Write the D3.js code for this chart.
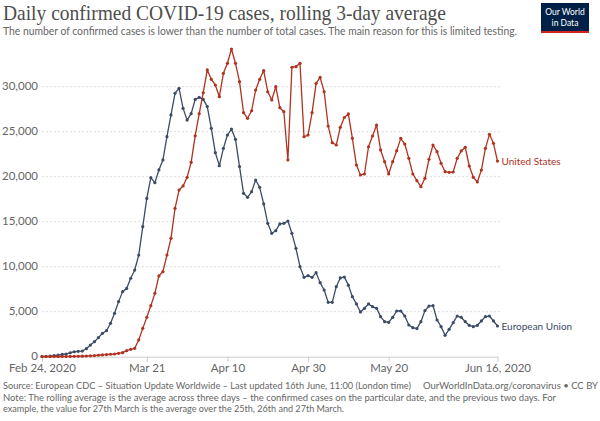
<!DOCTYPE html>
<html>
<head>
<meta charset="utf-8">
<script src="https://cdn.jsdelivr.net/npm/d3@7"></script>
<style>
  html, body { margin: 0; padding: 0; background: #fff; }
  svg { display: block; }
</style>
</head>
<body>
<svg id="chart" width="600" height="421"></svg>
<script>
// ---- data ----
const startDate = "2020-02-24";
const seriesNames = ["United States", "European Union"];
const euValues = [20,40,60,120,180,250,300,440,550,600,
  630,890,1290,1670,2120,2600,2890,3710,4820,6120,
  7230,7590,8710,9630,11290,14450,17590,19890,19340,20750,
  21860,24450,26860,29270,29820,27590,26290,27000,28590,28820,
  28590,27790,25380,22670,21230,23150,24630,25300,24150,21120,
  18150,17710,18340,19630,18820,16970,14820,13710,14000,14750,
  14820,15080,13710,12040,10000,8820,9000,8820,9340,8230,
  7410,6040,6040,7780,8750,8850,7950,6670,5860,4970,
  5380,5860,5560,5380,4450,3890,3820,4380,5080,5080,
  4520,3520,3230,3120,3890,5120,5630,5670,4080,3340,
  2380,3040,3780,4520,4380,3890,3490,3340,3490,3970,
  4450,4520,3970,3410];
const usValues = [15,15,15,20,20,20,25,30,40,50,
  60,80,100,130,160,200,240,270,300,370,
  450,670,820,930,1860,3150,4370,5670,7040,8970,
  9450,11300,13150,16490,18520,18970,19930,21600,24540,27000,
  29330,31860,30820,30190,28890,31490,32600,34190,32600,30560,
  27110,26490,27330,29630,30820,31780,29440,28520,30000,27670,
  27220,21860,32160,32220,32600,24440,24630,27110,30370,31040,
  29440,25630,23780,23520,25490,26580,26970,24260,21300,20190,
  20300,23330,24520,25740,22970,21670,20300,21670,22890,24260,
  23630,22040,20300,19560,18890,19820,21930,23520,22780,21490,
  20560,20490,20520,22040,22860,23270,21190,19930,19410,20740,
  23150,24710,23710,21740];
const yTicks = [0, 5000, 10000, 15000, 20000, 25000, 30000];
const xTickDates = ["2020-02-24","2020-03-21","2020-04-10","2020-04-30","2020-05-20","2020-06-16"];
const xTickLabels = ["Feb 24, 2020","Mar 21","Apr 10","Apr 30","May 20","Jun 16, 2020"];

const title = "Daily confirmed COVID-19 cases, rolling 3-day average";
const subtitle = "The number of confirmed cases is lower than the number of total cases. The main reason for this is limited testing.";
const sourceText = "Source: European CDC – Situation Update Worldwide – Last updated 16th June, 11:00 (London time)";
const urlText = "OurWorldInData.org/coronavirus • CC BY";
const noteLines = ["Note: The rolling average is the average across three days – the confirmed cases on the particular date, and the previous two days. For",
  "example, the value for 27th March is the average over the 25th, 26th and 27th March."];

// ---- setup ----
const parse = d3.utcParse("%Y-%m-%d");
const t0 = parse(startDate);
const dates = euValues.map((_, i) => d3.utcDay.offset(t0, i));
const colors = { "United States": "#b0321f", "European Union": "#3b4c66" };
const FONT = "Lato, 'Open Sans', sans-serif";

const svg = d3.select("#chart");
const x = d3.scaleUtc().domain([dates[0], dates[dates.length - 1]]).range([42, 497.5]);
const y = d3.scaleLinear().domain([0, 30000]).range([356.7, 86.7]);

// Title & subtitle
svg.append("text").attr("x", 3).attr("y", 20)
  .attr("font-family", "'Liberation Serif', 'DejaVu Serif', serif")
  .attr("font-size", 21).attr("fill", "#4d4d4d")
  .attr("textLength", 443).attr("lengthAdjust", "spacingAndGlyphs")
  .text(title);
svg.append("text").attr("x", 3).attr("y", 35)
  .attr("font-family", FONT).attr("font-size", 11).attr("fill", "#666")
  .attr("textLength", 514).attr("lengthAdjust", "spacingAndGlyphs")
  .text(subtitle);

// Logo
const logo = svg.append("g").attr("transform", "translate(541,3)");
logo.append("rect").attr("width", 48).attr("height", 30).attr("fill", "#002147");
logo.append("rect").attr("y", 28).attr("width", 48).attr("height", 2).attr("fill", "#ce261e");
logo.append("text").attr("x", 24).attr("y", 12).attr("text-anchor", "middle")
  .attr("font-family", FONT).attr("font-size", 8.5).attr("fill", "#fff").text("Our World");
logo.append("text").attr("x", 24).attr("y", 22.5).attr("text-anchor", "middle")
  .attr("font-family", FONT).attr("font-size", 8.5).attr("fill", "#fff").text("in Data");

// Gridlines
const grid = svg.append("g");
grid.selectAll("line").data(yTicks.filter(d => d > 0)).join("line")
  .attr("x1", 42).attr("x2", 500)
  .attr("y1", d => y(d)).attr("y2", d => y(d))
  .attr("stroke", "#ddd").attr("stroke-width", 1).attr("stroke-dasharray", "2,2");

// Y axis labels
svg.append("g").selectAll("text").data(yTicks).join("text")
  .attr("x", 38).attr("y", d => y(d)).attr("dy", "0.25em")
  .attr("text-anchor", "end")
  .attr("font-family", FONT).attr("font-size", 11.5).attr("fill", "#666")
  .text(d => d3.format(",")(d));

// X axis
const xAxis = d3.axisBottom(x)
  .tickValues(xTickDates.map(parse))
  .tickFormat((d, i) => xTickLabels[i])
  .tickSize(5).tickSizeOuter(0);
const gx = svg.append("g").attr("transform", `translate(0,${y(0)})`).call(xAxis);
gx.select(".domain").attr("stroke", "#ccc");
gx.selectAll(".tick line").attr("stroke", "#ccc");
gx.selectAll(".tick text").attr("font-family", FONT).attr("font-size", 11.5)
  .attr("fill", "#666").attr("dy", "0.6em");

// Series
const series = [
  { name: "European Union", values: euValues },
  { name: "United States", values: usValues }
];
const line = d3.line().x((d, i) => x(dates[i])).y(d => y(d));
series.forEach(s => {
  const g = svg.append("g");
  g.append("path").datum(s.values).attr("d", line)
    .attr("fill", "none").attr("stroke", colors[s.name]).attr("stroke-width", 1.3)
    .attr("stroke-linejoin", "round");
  g.selectAll("circle").data(s.values).join("circle")
    .attr("cx", (d, i) => x(dates[i])).attr("cy", d => y(d)).attr("r", 1.6)
    .attr("fill", colors[s.name]);
  const last = s.values[s.values.length - 1];
  g.append("text").attr("x", x(dates[dates.length - 1]) + 4).attr("y", y(last))
    .attr("dy", "0.35em").attr("font-family", FONT).attr("font-size", 10)
    .attr("fill", colors[s.name]).text(s.name);
});

// Footer
svg.append("text").attr("x", 3).attr("y", 389)
  .attr("font-family", FONT).attr("font-size", 9.5).attr("fill", "#666")
  .attr("textLength", 408).attr("lengthAdjust", "spacingAndGlyphs")
  .text(sourceText);
svg.append("text").attr("x", 598).attr("y", 389).attr("text-anchor", "end")
  .attr("font-family", FONT).attr("font-size", 9.5).attr("fill", "#666")
  .text(urlText);
noteLines.forEach((t, i) => {
  svg.append("text").attr("x", 3).attr("y", 400.5 + i * 11.5)
    .attr("font-family", FONT).attr("font-size", 9.5).attr("fill", "#666")
    .attr("textLength", i === 0 ? 553 : 341).attr("lengthAdjust", "spacingAndGlyphs")
    .text(t);
});
</script>
</body>
</html>
